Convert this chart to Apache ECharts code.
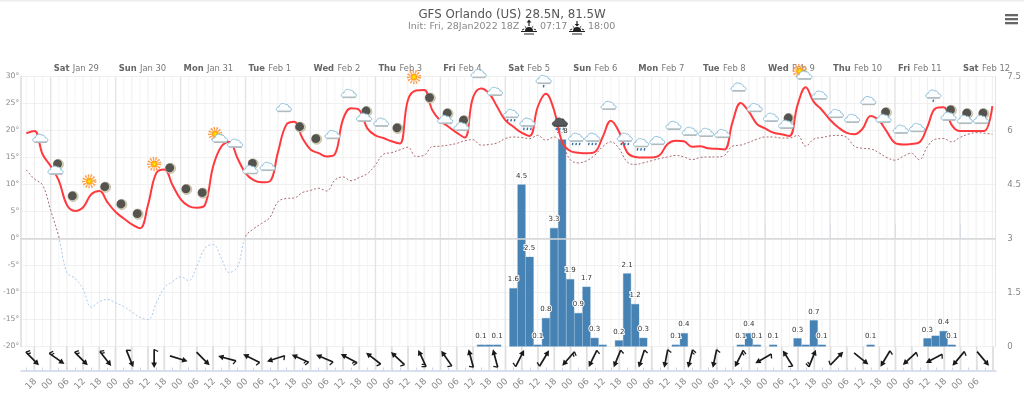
<!DOCTYPE html>
<html><head><meta charset="utf-8">
<style>html,body{margin:0;padding:0;background:#fff}#c{width:1024px;height:394px}</style>
<script src="https://cdn.jsdelivr.net/npm/echarts@6/dist/echarts.min.js"></script>
</head><body><div id="c"></div>
<script>
// 3-hourly series, first sample at hour -9 (hours counted from Sat Jan 29 00)
const firstHour = -9;
const temperature = [19.5,19.9,15.6,13.4,10.7,6.2,5.1,5.8,8.2,8.8,6.7,4.9,3.7,2.6,1.9,6.3,12.1,12.8,9.9,7.3,6.0,5.7,6.2,13.3,17,17.9,14.9,12.1,10.8,10.4,10.6,16,21,21.6,18.6,16.5,15.8,15.2,15.6,22,24.1,23.8,20.4,19.1,18.6,18,17.6,25.6,27.4,27.5,23.8,21.8,20.7,19.6,18.7,26,27.8,26.9,24.4,21.9,20.7,19.6,19,24.4,26.8,23.8,17.9,16.2,15.9,15.8,16,18.8,21.8,19.8,16,15.1,15,15,15.4,17.5,18.1,18,17,17.1,16.7,16.6,16.5,21.6,25.1,23.5,21.2,20.4,19.6,19.3,19,24.7,28,25.3,23.8,22,20.6,19.6,19.3,20.3,22.7,21.9,19.8,17.7,17.4,17.5,17.8,20.7,24.1,24.3,21,19.9,19.9,19.9,19.9,24.5];
const dewpoint = [12.7,11,9.9,5.2,0.3,-6.3,-7.4,-9.4,-12.7,-11.7,-11.3,-11.9,-12.6,-13.6,-14.6,-15,-12,-9.1,-8,-7.1,-7.8,-5.1,-1.8,-1.1,-3.6,-6.3,-5.3,0.4,1.8,2.8,3.9,6.8,7.4,7.5,8.5,8.9,9.3,8.8,10.8,11.4,10.7,11.3,12,13.6,15.6,15.9,16.4,16.9,15.2,15.4,17,17.1,17.3,17.6,18.1,18.3,17.3,17.4,17.7,18.5,18.8,18.7,18.5,19.1,18.2,18.8,17.5,14.6,14,14.4,15.4,17,17.9,16.7,14.2,13.7,14,14.4,14.8,15.1,15.4,15.1,14.6,15,15.1,15.1,15.4,17.1,17.3,17.8,18.4,18.8,18.8,18.6,18.6,19.1,17.1,18.4,18.7,19,19.1,18.8,17.1,16.7,16.6,15.9,15,14.5,15.2,15.8,14.6,17,18.4,18.5,17.9,18.7,19.3,19.6,19.5,19.3];
// precipitation bars
const rainHours  = [159,162,165,171,174,177,180,183,186,189,192,195,198,201,204,210,213,216,219,231,234,255,258,261,267,276,279,282,285,303,324,327,330,333];
const rainValues = [0.05,0.05,0.05,1.62,4.5,2.49,0.05,0.79,3.29,5.75,1.87,0.93,1.66,0.24,0.05,0.17,2.03,1.18,0.24,0.05,0.37,0.05,0.37,0.05,0.05,0.23,0.05,0.73,0.05,0.05,0.23,0.3,0.43,0.05];
const rainLabels = ['0.1','','0.1','1.6','4.5','2.5','0.1','0.8','3.3','5.8','1.9','0.9','1.7','0.3','','0.2','2.1','1.2','0.3','0.1','0.4','0.1','0.4','0.1','0.1','0.3','','0.7','0.1','0.1','0.3','','0.4','0.1'];
// wind arrows every 9 h from hour -6: heading in degrees clockwise from north, barbs on the tail
const windHeading = [135,125,135,142,158,180,107,135,285,297,252,294,293,298,308,313,335,325,345,345,27,31,221,206,202,198,191,194,192,207,240,328,22,44,129,211,227,242,220,140];
const windBarbs   = [2,2,2,2,1,1,0,0,1,1,1,2,1,2,1,1,2,1,1,1,1,1,2,1,1,1,1,2,1,2,1,1,2,1,0,1,1,1,1,0];
// weather icons every 6 h from hour -3
const iconKinds = ['c','mc','m','s','m','m','m','s','m','m','m','sc','c','mc','c','c','m','m','c','c','mc','c','m','s','m','mc','mc','c','c','r','r','l','d','r','r','c','r','r','c','c','c','c','c','c','c','c','mc','sc','c','c','c','c','mc','c','c','l','mc','mc','mc'];
const iconLevels = [18.6,12.7,7.8,10.6,9.5,6.3,4.5,13.8,13,9.1,8.4,18.6,17.7,12.8,13.4,24.3,20.6,18.4,19.3,26.9,22.5,21.6,20.4,29.9,26,22.1,20.8,30.6,27.3,23.2,21.6,29.5,21.6,18.8,18.8,24.7,18.8,17.8,18.2,21,19.9,19.7,19.5,28.1,24.3,22.5,21.2,30.3,26.6,23.2,22.3,25.6,22.3,20.3,20.6,26.8,22.7,22.1,22.1];
// axes
const dayHours = [0,24,48,72,96,120,144,168,192,216,240,264,288,312,336];
const dayNames = ['Sat','Sun','Mon','Tue','Wed','Thu','Fri','Sat','Sun','Mon','Tue','Wed','Thu','Fri','Sat'];
const dayDates = ['Jan 29','Jan 30','Jan 31','Feb 1','Feb 2','Feb 3','Feb 4','Feb 5','Feb 6','Feb 7','Feb 8','Feb 9','Feb 10','Feb 11','Feb 12'];
const hourTickLabels = ['18','00','06','12'];
const rightTicks = {7.5:'7.5',6:'6',4.5:'4.5',3:'3',1.5:'1.5',0:'0'};
const titleText = 'GFS Orlando (US) 28.5N, 81.5W';
const initText = 'Init: Fri, 28Jan2022 18Z';
const sunriseText = '07:17', sunsetText = '18:00';

const FONT = '"DejaVu Sans", sans-serif';
const xMin = -10.9, xMax = 349.1;
const toSeries = a => a.map((v,i)=>[firstHour+i*3, v]);

const every3h = []; for (let h=-9;h<=348;h+=3) every3h.push(h);
const every6h = every3h.filter(h=>((h%6)+6)%6===0);
const hourLabelHours = every6h.filter(h=>h<=342);
const hourLabelOf = h => hourTickLabels[(((h+6)%24+24)%24)/6];

const CLOUD = 'M-5.5,4 C-8.6,4 -8.6,-0.2 -5.3,-0.2 C-5,-3.4 -1,-5 1.3,-2.9 C3.4,-3.4 5,-1.6 4.7,-0.2 C8,-0.2 8.2,4 5.2,4 Z';
function cloud(dx,dy,fill,stroke){
  return [
    {type:'path',x:dx,y:dy,shape:{pathData:CLOUD},style:{fill:fill||'#fbfdfe',stroke:stroke||'#8fc1da',lineWidth:1}},
    {type:'line',x:dx,y:dy,shape:{x1:-6,y1:4.2,x2:6.5,y2:4.2},style:{stroke:fill?'#444':'#b4b9ba',lineWidth:1.4}}
  ];
}
function moon(dx,dy){
  return [
    {type:'circle',x:dx,y:dy,shape:{cx:0,cy:0,r:5.1},style:{fill:'#dcd8b6',stroke:'#a3a18e',lineWidth:0.6}},
    {type:'circle',x:dx,y:dy,shape:{cx:-0.7,cy:-0.5,r:4.4},style:{fill:'#55534f'}}
  ];
}
function sun(dx,dy){
  return [
    {type:'circle',x:dx,y:dy,shape:{cx:0,cy:0,r:5.4},style:{fill:'none',stroke:'#ff9c4a',lineWidth:3.4,lineDash:[1.3,1.3]}},
    {type:'circle',x:dx,y:dy,shape:{cx:0,cy:0,r:3.2},style:{fill:'#ffb400',stroke:'#ff8a2a',lineWidth:0.6}},
    {type:'circle',x:dx,y:dy,shape:{cx:0,cy:0,r:1.6},style:{fill:'#ffe000'}}
  ];
}
function drops(dx,dy,n,color){
  const out=[], xs = n===1?[0]:(n===2?[-2.5,2.5]:[-3.5,0,3.5]);
  xs.forEach(x=>out.push({type:'line',x:dx,y:dy,shape:{x1:x,y1:5.8,x2:x-0.5,y2:8.2},style:{stroke:color||'#2d6da5',lineWidth:1.4}}));
  return out;
}
function iconChildren(k){
  if(k==='c') return cloud(0,0);
  if(k==='m') return moon(0,0);
  if(k==='s') return sun(0,0);
  if(k==='mc') return moon(1.5,-5.5).concat(cloud(-1,0));
  if(k==='sc') return sun(-4,-4).concat(cloud(1,0));
  if(k==='r') return cloud(0,0).concat(drops(0,0,3));
  if(k==='l') return cloud(0,0).concat(drops(0,0,1));
  if(k==='d') return cloud(0,0,'#55585c','#44474a').concat(drops(0,0,3,'#3d7fb8'));
  return [];
}
function vline(api,params,color,width){
  const p = api.coord([api.value(0),0]);
  const cs = params.coordSys;
  return {type:'line',shape:{x1:p[0],y1:cs.y,x2:p[0],y2:cs.y+cs.height},style:{stroke:color,lineWidth:width},silent:true};
}
const sunIcon = (x,y,up)=>({type:'group',x,y,silent:true,children:[
  {type:'sector',shape:{cx:0,cy:0,r:4,r0:0,startAngle:Math.PI,endAngle:2*Math.PI},style:{fill:'#222'}},
  {type:'line',shape:{x1:-8,y1:0.5,x2:8,y2:0.5},style:{stroke:'#222',lineWidth:1}},
  {type:'line',shape:{x1:-7,y1:-1,x2:-4.8,y2:-2},style:{stroke:'#222',lineWidth:1}},
  {type:'line',shape:{x1:7,y1:-1,x2:4.8,y2:-2},style:{stroke:'#222',lineWidth:1}},
  {type:'line',shape:{x1:-4.2,y1:-4.6,x2:-2.8,y2:-3.4},style:{stroke:'#222',lineWidth:1}},
  {type:'line',shape:{x1:4.2,y1:-4.6,x2:2.8,y2:-3.4},style:{stroke:'#222',lineWidth:1}},
  {type:'line',shape:{x1:-5,y1:3,x2:5,y2:3},style:{stroke:'#222',lineWidth:1}},
  {type:'line',shape:{x1:0,y1:-10,x2:0,y2:-5},style:{stroke:'#222',lineWidth:1.2}},
  {type:'polygon',shape:{points:up?[[-2.4,-8.6],[0,-11.6],[2.4,-8.6]]:[[-2.4,-7],[0,-4.4],[2.4,-7]]},style:{fill:'#222'}}
]});

const dewColor = new echarts.graphic.LinearGradient(0,76.5,0,346.5,[
  {offset:0,color:'#a9696f'},{offset:0.6,color:'#a9696f'},{offset:0.6,color:'#a9c8ec'},{offset:1,color:'#a9c8ec'}],true);

const chart = echarts.init(document.getElementById('c'),null,{renderer:'canvas'});
const baseOption = {
  animation:false,
  backgroundColor:'#fff',
  title:{text:titleText,left:'center',top:4,textStyle:{fontFamily:FONT,fontSize:11.8,fontWeight:'normal',color:'#555'}},
  grid:[
    {left:21,right:28,top:76.5,height:270},
    {left:21,right:28,top:346.5,height:24}
  ],
  xAxis:[
    {gridIndex:0,type:'value',min:xMin,max:xMax,position:'top',
     axisLine:{show:true,lineStyle:{color:'#ccd6eb',width:1}},
     axisTick:{show:true,length:15,inside:false,customValues:dayHours,lineStyle:{color:'#ccd6eb'}},
     splitLine:{show:false},
     axisLabel:{show:true,customValues:dayHours,margin:2,align:'left',verticalAlign:'bottom',padding:[0,0,0,3],
       showMinLabel:true,showMaxLabel:true,hideOverlap:false,
       formatter:v=>{const i=dayHours.indexOf(v);return '{b|'+dayNames[i]+'} {n|'+dayDates[i]+'}';},
       rich:{b:{fontFamily:FONT,fontSize:8.4,lineHeight:10,fontWeight:'bold',color:'#666'},n:{fontFamily:FONT,fontSize:8.4,lineHeight:10,color:'#777'}}}},
    {gridIndex:1,type:'value',min:xMin,max:xMax,position:'bottom',
     axisLine:{show:true,onZero:false,lineStyle:{color:'#ccd6eb',width:1.5}},
     axisTick:{show:true,inside:true,length:3,customValues:every3h,lineStyle:{color:'#ccd6eb'}},
     splitLine:{show:false},
     axisLabel:{show:false}}
  ],
  yAxis:[
    {gridIndex:0,type:'value',min:-20,max:30,interval:5,position:'left',
     axisLine:{show:true,onZero:false,lineStyle:{color:'#e4e4e4',width:2}},axisTick:{show:false},
     splitLine:{show:true,lineStyle:{color:'#f0f0f0'}},
     axisLabel:{margin:2,fontFamily:FONT,fontSize:7.6,color:'#888',formatter:'{value}°'}},
    {gridIndex:0,type:'value',min:0,max:7.5,interval:1.5,position:'right',
     axisLine:{show:true,onZero:false,lineStyle:{color:'#e4e4e4',width:1}},axisTick:{show:false},splitLine:{show:false},
     axisLabel:{margin:12,fontFamily:FONT,fontSize:8.6,color:'#888',formatter:v=>rightTicks[v]}},
    {gridIndex:1,type:'value',min:0,max:1,show:false}
  ],
  series:[
    {type:'custom',name:'grid3h',xAxisIndex:0,yAxisIndex:0,silent:true,z:1,data:every3h.map(h=>[h,0]),encode:{x:0,y:1},
     renderItem:(params,api)=>{const h=api.value(0);const day=h%24===0;
       return vline(api,params,day?'#e4e4e4':(((h%6)+6)%6===0?'#eeeeee':'#f4f4f4'),day?1.4:1);}},
    {type:'custom',name:'grid6h',xAxisIndex:1,yAxisIndex:2,silent:true,z:1,data:every6h.map(h=>[h,0]),encode:{x:0,y:1},
     renderItem:(params,api)=>vline(api,params,'#dfdfdf',1.8)},
    {type:'custom',name:'hourLabels',xAxisIndex:1,yAxisIndex:2,z:3,clip:false,silent:true,
     data:hourLabelHours.map(h=>[h,0]),encode:{x:0,y:1},
     renderItem:(params,api)=>{const h=api.value(0),p=api.coord([h,0]);
       return {type:'text',x:p[0]+1,y:p[1]+9.5,rotation:Math.PI/4,
         style:{text:hourLabelOf(h),font:'9px '+FONT,fill:'#888',align:'right',verticalAlign:'middle'}};}},
    {type:'bar',name:'rain',xAxisIndex:0,yAxisIndex:1,z:2,barWidth:8,
     data:rainHours.map((h,i)=>[h,rainValues[i]]),
     itemStyle:{color:'#4682b4',borderColor:'#5b92c0',borderWidth:0.4},
     label:{show:true,position:'top',distance:5,fontFamily:FONT,fontSize:7,color:'#333',textBorderColor:'#fff',textBorderWidth:2,
       formatter:p=>rainLabels[p.dataIndex]}},
    {type:'line',name:'dew',xAxisIndex:0,yAxisIndex:0,z:3,smooth:0.4,showSymbol:false,data:toSeries(dewpoint),
     lineStyle:{width:1,type:[2,2],color:dewColor}},
    {type:'line',name:'temp',xAxisIndex:0,yAxisIndex:0,z:4,smooth:0.4,showSymbol:false,data:toSeries(temperature),
     lineStyle:{width:2,color:'#ff3a3f'},itemStyle:{color:'#ff3a3f'},
     markLine:{silent:true,symbol:'none',animation:false,label:{show:false},data:[{yAxis:0}],lineStyle:{color:'#d8d8d8',width:1.5,type:'solid'}}},
    {type:'custom',name:'icons',xAxisIndex:0,yAxisIndex:0,z:6,clip:false,silent:true,
     data:iconLevels.map((v,i)=>[-3+i*6,v,i]),encode:{x:0,y:1},
     renderItem:(params,api)=>{const p=api.coord([api.value(0),api.value(1)]);
       return {type:'group',x:p[0]-2,y:p[1],children:iconChildren(iconKinds[api.value(2)])};}},
    {type:'custom',name:'wind',xAxisIndex:1,yAxisIndex:2,z:5,clip:false,silent:true,
     data:windHeading.map((d,i)=>[-6+i*9,0.5,d,windBarbs[i]]),encode:{x:0,y:1},
     renderItem:(params,api)=>{const p=api.coord([api.value(0),api.value(1)]);
       const rot=-api.value(2)*Math.PI/180,n=api.value(3),ink='#1a1a1a';
       const kids=[
         {type:'line',shape:{x1:0,y1:9,x2:0,y2:-5},style:{stroke:ink,lineWidth:1.7}},
         {type:'polygon',shape:{points:[[0,-9.5],[-2.9,-4],[2.9,-4]]},style:{fill:ink}}];
       if(n>=1)kids.push({type:'line',shape:{x1:0,y1:9,x2:-4,y2:7},style:{stroke:ink,lineWidth:1.3}});
       if(n>=2)kids.push({type:'line',shape:{x1:0,y1:6.5,x2:-3,y2:5},style:{stroke:ink,lineWidth:1.2}});
       return {type:'group',x:p[0]-2,y:p[1],rotation:rot,children:kids};}}
  ],
  graphic:{elements:[
    {type:'rect',x:0,y:0,silent:true,shape:{width:1024,height:1.5},style:{fill:'#eeeeee'}},
    {type:'text',x:408,y:22,silent:true,style:{text:initText,font:'9.5px '+FONT,fill:'#888'}},
    {type:'text',x:540,y:22,silent:true,style:{text:sunriseText,font:'9.5px '+FONT,fill:'#888'}},
    {type:'text',x:588,y:22,silent:true,style:{text:sunsetText,font:'9.5px '+FONT,fill:'#888'}},
    sunIcon(529,31,true),
    sunIcon(577,31,false),
    {type:'rect',x:1005,y:14,silent:true,shape:{width:13,height:2.3},style:{fill:'#666'}},
    {type:'rect',x:1005,y:18,silent:true,shape:{width:13,height:2.3},style:{fill:'#666'}},
    {type:'rect',x:1005,y:22,silent:true,shape:{width:13,height:2.3},style:{fill:'#666'}}
  ]}
};
chart.setOption(baseOption);
</script></body></html>
